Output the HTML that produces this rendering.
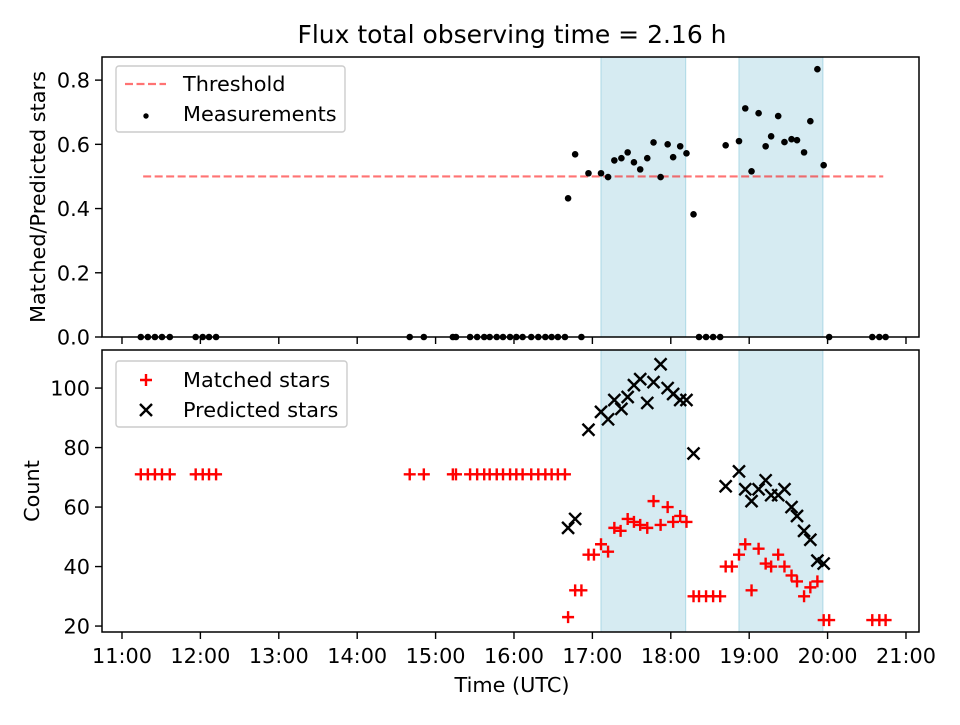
<!DOCTYPE html>
<html><head><meta charset="utf-8"><style>
body{margin:0;background:#fff}
svg text{font-family:"DejaVu Sans","Liberation Sans",sans-serif;fill:#000}
</style></head><body>
<svg id="chart" width="960" height="720" xmlns="http://www.w3.org/2000/svg"></svg>
<script>
// Data
const ratioTimes=[11.24,11.33,11.42,11.51,11.61,11.94,12.03,12.11,12.20,14.67,14.85,15.22,15.26,15.44,15.53,15.62,15.69,15.78,15.86,15.95,16.03,16.11,16.22,16.31,16.40,16.48,16.56,16.65,16.86,
16.69,16.78,16.95,17.11,17.20,17.28,17.37,17.45,17.53,17.61,17.70,17.78,17.87,17.96,18.03,18.12,18.20,18.29,18.36,18.45,18.54,18.63,
18.70,18.87,18.95,19.03,19.12,19.21,19.28,19.37,19.45,19.54,19.61,19.70,19.78,19.87,19.95,20.02,20.57,20.66,20.74];
const ratioValues=[0,0,0,0,0,0,0,0,0,0,0,0,0,0,0,0,0,0,0,0,0,0,0,0,0,0,0,0,0,
0.432,0.569,0.510,0.510,0.498,0.550,0.557,0.575,0.544,0.522,0.557,0.606,0.498,0.600,0.560,0.594,0.572,0.382,0,0,0,0,
0.597,0.610,0.712,0.516,0.697,0.594,0.625,0.688,0.607,0.616,0.613,0.575,0.672,0.834,0.535,0,0,0,0];
const matchedTimes=[11.24,11.33,11.42,11.51,11.61,11.94,12.03,12.11,12.20,14.67,14.85,15.22,15.26,15.44,15.53,15.62,15.69,15.78,15.86,15.95,16.03,16.11,16.22,16.31,16.40,16.48,16.56,16.65,
16.69,16.78,16.86,16.95,17.02,17.11,17.20,17.28,17.36,17.45,17.53,17.61,17.70,17.78,17.87,17.96,18.03,18.12,18.20,18.29,18.36,18.45,18.54,18.63,
18.70,18.78,18.87,18.95,19.03,19.12,19.21,19.28,19.37,19.45,19.54,19.61,19.70,19.78,19.87,19.95,20.02,20.57,20.66,20.74];
const matchedValues=[71,71,71,71,71,71,71,71,71,71,71,71,71,71,71,71,71,71,71,71,71,71,71,71,71,71,71,71,
23,32,32,44,44,47.5,45,53,52,56,55,54,53,62,54,60,55,57,55,30,30,30,30,30,
40,40,44,47.5,32,46,41,40,44,40,37,35,30,33,35,22,22,22,22,22];
const predTimes=[16.69,16.78,16.95,17.11,17.20,17.28,17.37,17.45,17.53,17.61,17.70,17.78,17.87,17.96,18.03,18.12,18.20,18.29,
18.70,18.87,18.95,19.03,19.12,19.21,19.28,19.37,19.45,19.54,19.61,19.70,19.78,19.87,19.95];
const predValues=[53,56,86,92,89.5,96,93,97,101,103,95,102,108,100,98,96,96,78,
67,72,66,62,66,69,64,64,66,60,57,52,49,42,41];
const spans=[[17.11,18.19],[18.87,19.94]];
const threshold=0.5;
const xTickLabels=["11:00","12:00","13:00","14:00","15:00","16:00","17:00","18:00","19:00","20:00","21:00"];
const topYTicks=[0,0.2,0.4,0.6,0.8];
const botYTicks=[20,40,60,80,100];

const NS="http://www.w3.org/2000/svg";
const svg=document.getElementById('chart');
function mk(t,a,p){const e=document.createElementNS(NS,t);for(const k in a)e.setAttribute(k,a[k]);(p||svg).appendChild(e);return e;}
const L=102,R=919,xmin=10.745,xmax=21.166;
const X=t=>L+(t-xmin)/(xmax-xmin)*(R-L);
const T={top:57,bot:337,min:0,max:0.872};
const B={top:350,bot:632,min:18.0,max:112.8};
const Y=(ax,v)=>ax.bot-(v-ax.min)/(ax.max-ax.min)*(ax.bot-ax.top);
const FS='20.8';

let t=mk('text',{x:512,y:43,'font-size':'25','text-anchor':'middle'});

t.textContent='Flux total observing time = 2.16 h';

function drawAxes(ax,name,yticks,fmt,showX){
  const g=mk('g',{});
  
  spans.forEach((s,i)=>{const r=mk('rect',{x:X(s[0]),y:ax.top,width:X(s[1])-X(s[0]),height:ax.bot-ax.top,fill:'#add8e6','fill-opacity':0.5,stroke:'#add8e6','stroke-width':1},g);
    });
  yticks.forEach(v=>{const y=Y(ax,v);mk('line',{x1:L-7,x2:L,y1:y,y2:y,stroke:'#000','stroke-width':1.4},g);
    const tx=mk('text',{x:L-12,y:y+7.5,'font-size':FS,'text-anchor':'end'},g);
    tx.textContent=fmt(v);});
  xTickLabels.forEach((lab,i)=>{const x=X(11+i);mk('line',{x1:x,x2:x,y1:ax.bot,y2:ax.bot+7,stroke:'#000','stroke-width':1.4},g);
    if(showX){const tx=mk('text',{x:x,y:ax.bot+31,'font-size':FS,'text-anchor':'middle'},g);
      tx.textContent=lab;}});
  return g;
}
function frame(ax){const r=mk('rect',{x:L,y:ax.top,width:R-L,height:ax.bot-ax.top,fill:'none',stroke:'#000','stroke-width':1.5});
  }

// top
drawAxes(T,'ratio-axes',topYTicks,v=>v.toFixed(1),false);
const th=mk('line',{x1:X(11.27),x2:X(20.71),y1:Y(T,threshold),y2:Y(T,threshold),stroke:'#ff0000','stroke-opacity':0.55,'stroke-width':2.2,'stroke-dasharray':'8,3.5'});

ratioTimes.forEach((tm,i)=>{const c=mk('circle',{cx:X(tm),cy:Y(T,ratioValues[i]),r:3.3,fill:'#000'});
  });
frame(T);
t=mk('text',{x:45,y:197,'font-size':FS,'text-anchor':'middle',transform:'rotate(-90 45 197)'});
t.textContent='Matched/Predicted stars';

// bottom
drawAxes(B,'count-axes',botYTicks,v=>String(v),true);
const M=6;
matchedTimes.forEach((tm,i)=>{const x=X(tm),y=Y(B,matchedValues[i]);
  const p=mk('path',{d:`M${x-M},${y}H${x+M}M${x},${y-M}V${y+M}`,stroke:'#ff0000','stroke-width':2.4});
  });
predTimes.forEach((tm,i)=>{const x=X(tm),y=Y(B,predValues[i]);
  const p=mk('path',{d:`M${x-M},${y-M}L${x+M},${y+M}M${x-M},${y+M}L${x+M},${y-M}`,stroke:'#000','stroke-width':2.4});
  });
frame(B);
t=mk('text',{x:39,y:491,'font-size':FS,'text-anchor':'middle',transform:'rotate(-90 39 491)'});
t.textContent='Count';
t=mk('text',{x:512,y:692,'font-size':FS,'text-anchor':'middle'});
t.textContent='Time (UTC)';

// legends
let lg=mk('g',{});
mk('rect',{x:116,y:66,width:229,height:66,rx:3,fill:'#fff','fill-opacity':0.8,stroke:'#ccc','stroke-width':1.4},lg);
mk('line',{x1:125,x2:166,y1:84,y2:84,stroke:'#ff0000','stroke-opacity':0.55,'stroke-width':2.2,'stroke-dasharray':'8,3.5'},lg);
t=mk('text',{x:183,y:91,'font-size':FS},lg);t.textContent='Threshold';
mk('circle',{cx:146,cy:116,r:2.7,fill:'#000'},lg);
t=mk('text',{x:183,y:121,'font-size':FS},lg);t.textContent='Measurements';

lg=mk('g',{});
mk('rect',{x:116,y:361,width:231,height:66,rx:3,fill:'#fff','fill-opacity':0.8,stroke:'#ccc','stroke-width':1.4},lg);
mk('path',{d:'M140,380H152M146,374V386',stroke:'#ff0000','stroke-width':2.4},lg);
t=mk('text',{x:183,y:387,'font-size':FS},lg);t.textContent='Matched stars';
mk('path',{d:'M140,404L152,416M140,416L152,404',stroke:'#000','stroke-width':2.4},lg);
t=mk('text',{x:183,y:417,'font-size':FS},lg);t.textContent='Predicted stars';
</script>
</body></html>
